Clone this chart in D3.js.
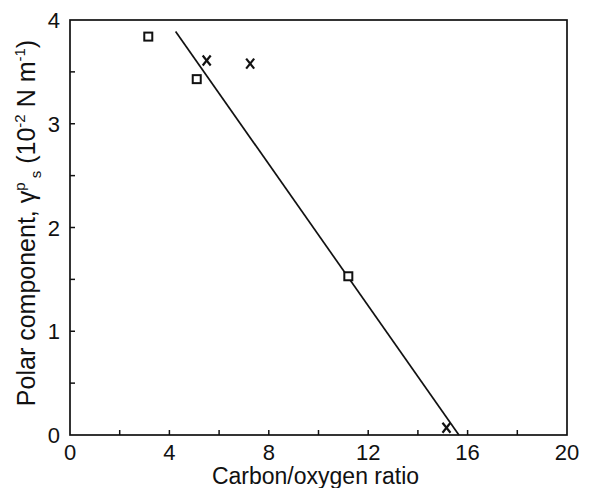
<!DOCTYPE html>
<html>
<head>
<meta charset="utf-8">
<script src="https://cdn.jsdelivr.net/npm/d3@7"></script>
<style>
  body { margin: 0; background: #fff; }
  text { font-family: "Liberation Sans", Arial, sans-serif; fill: #111; }
</style>
</head>
<body>
<svg id="chart" width="590" height="488"></svg>
<script>
// Measured points: carbon/oxygen ratio vs polar surface-energy component
const squareX = [3.15, 5.1, 11.2];
const squareY = [3.84, 3.43, 1.53];
const crossX = [5.5, 7.25, 15.15];
const crossY = [3.61, 3.58, 0.07];
// Fitted straight line end points
const fitX = [4.25, 15.65];
const fitY = [3.89, 0];

const xTicks = [0, 4, 8, 12, 16, 20];
const xMinor = [2, 4, 6, 8, 10, 12, 14, 16, 18];
const yTicks = [0, 1, 2, 3, 4];
const yMinor = [0.5, 1, 1.5, 2, 2.5, 3, 3.5];

const svg = d3.select("#chart");
const plotL = 70, plotR = 567, plotT = 20, plotB = 435;

const x = d3.scaleLinear().domain([0, 20]).range([plotL, plotR]);
const y = d3.scaleLinear().domain([0, 4]).range([plotB, plotT]);

const ink = "#111";

// Frame
svg.append("rect")
  .attr("x", plotL).attr("y", plotT)
  .attr("width", plotR - plotL).attr("height", plotB - plotT)
  .attr("fill", "none").attr("stroke", ink).attr("stroke-width", 1.7);

// Inward ticks
svg.selectAll(".xt").data(xMinor).join("line")
  .attr("x1", d => x(d)).attr("x2", d => x(d))
  .attr("y1", plotB).attr("y2", plotB - 5)
  .attr("stroke", ink).attr("stroke-width", 1.5);
svg.selectAll(".yt").data(yMinor).join("line")
  .attr("x1", plotL).attr("x2", plotL + 5)
  .attr("y1", d => y(d)).attr("y2", d => y(d))
  .attr("stroke", ink).attr("stroke-width", 1.5);

// Tick labels
svg.selectAll(".xl").data(xTicks).join("text")
  .attr("x", d => x(d)).attr("y", 460)
  .attr("text-anchor", "middle").attr("font-size", 22)
  .text(d => d);
svg.selectAll(".yl").data(yTicks).join("text")
  .attr("x", plotL - 10).attr("y", d => y(d) + 8)
  .attr("text-anchor", "end").attr("font-size", 22)
  .text(d => d);

// Axis titles
svg.append("text")
  .attr("x", x(10) - 3).attr("y", 484)
  .attr("text-anchor", "middle").attr("font-size", 23)
  .text("Carbon/oxygen ratio");

const yt = svg.append("text")
  .attr("transform", `translate(35,223) rotate(-90)`)
  .attr("text-anchor", "middle").attr("font-size", 25);
yt.append("tspan").text("Polar component, γ");
yt.append("tspan").attr("dy", -10).attr("font-size", 15).text("p");
yt.append("tspan").attr("dy", 16).attr("font-size", 15).text(" s");
yt.append("tspan").attr("dy", -6).text(" (10");
yt.append("tspan").attr("dy", -10).attr("font-size", 15).text("-2");
yt.append("tspan").attr("dy", 10).text(" N m");
yt.append("tspan").attr("dy", -10).attr("font-size", 15).text("-1");
yt.append("tspan").attr("dy", 10).text(")");

// Fitted line
const fit = fitX.map((d, i) => [d, fitY[i]]);
svg.append("path")
  .attr("d", d3.line().x(d => x(d[0])).y(d => y(d[1]))(fit))
  .attr("fill", "none").attr("stroke", ink).attr("stroke-width", 1.7);

// Square markers
const squares = squareX.map((d, i) => [d, squareY[i]]);
svg.selectAll(".sq").data(squares).join("rect")
  .attr("x", d => x(d[0]) - 4).attr("y", d => y(d[1]) - 4)
  .attr("width", 8).attr("height", 8)
  .attr("fill", "#fff").attr("stroke", ink).attr("stroke-width", 2);

// Cross markers
const crosses = crossX.map((d, i) => [d, crossY[i]]);
const cg = svg.selectAll(".cx").data(crosses).join("g")
  .attr("transform", d => `translate(${x(d[0])},${y(d[1])})`);
cg.append("line").attr("x1", -4).attr("y1", -5).attr("x2", 4).attr("y2", 5)
  .attr("stroke", ink).attr("stroke-width", 2.2);
cg.append("line").attr("x1", 4).attr("y1", -5).attr("x2", -4).attr("y2", 5)
  .attr("stroke", ink).attr("stroke-width", 2.2);
</script>
</body>
</html>
